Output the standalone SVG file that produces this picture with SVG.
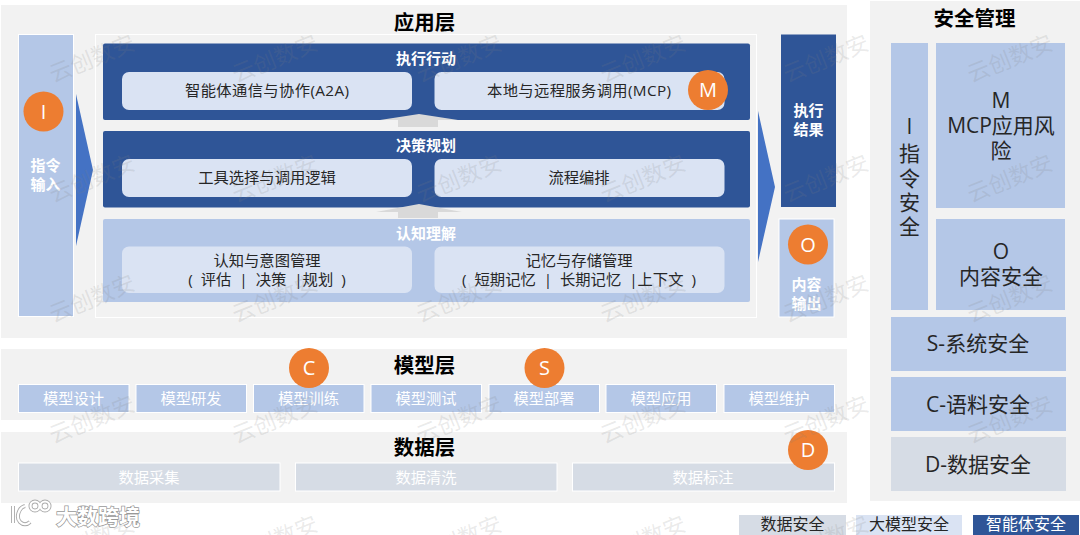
<svg xmlns="http://www.w3.org/2000/svg" width="1080" height="535" viewBox="0 0 1080 535">
<style>
text{font-family:"Open Sans","Noto Sans CJK SC",sans-serif;text-anchor:middle}
.panel{fill:#f2f2f2}
.dark{fill:#2f5597}
.light{fill:#b4c7e7}
.pale{fill:#dae3f3}
.gray{fill:#d6dce5}
.edge{stroke:#fff;stroke-width:1}
.arrow{fill:#4472c4}
.up{fill:#d9d9d9}
.badge circle{fill:#ed7d31}
.badge text{fill:#fff;font-size:20px}
.title{font-size:20.5px;font-weight:700;fill:#000}
.bar-t{font-size:15px;font-weight:700;fill:#fff}
.item{font-size:15.3px;fill:#262626}
.side{font-size:15px;font-weight:700;fill:#fff}
.sec{font-size:21px;fill:#262626}
.mod{font-size:15.3px;fill:#fff}
.leg{font-size:16px}
.wm{font-size:22.5px;fill:#7f7f7f;fill-opacity:.17}
.logo{font-size:21px;font-weight:700;fill:#fff;stroke:#999;stroke-width:1.5;paint-order:stroke}
.lg1{fill:none;stroke:#aaa;stroke-width:4}
.lg2{fill:none;stroke:#fff;stroke-width:2.200}
</style>
<g id="layer-app">
<rect class="panel" x="1" y="5" width="846" height="333"/>
<rect class="panel edge" x="95.5" y="34.5" width="661" height="283"/>
<text class="title" x="424.500" y="30">应用层</text>
</g>
<g id="node-input">
<rect class="light edge" x="18.5" y="34.5" width="55" height="282"/>
<text class="side"><tspan x="45.5" y="171">指令</tspan><tspan x="45.5" y="190">输入</tspan></text>
</g>
<g id="node-exec">
<rect class="dark" x="103" y="43.5" width="647" height="76.5" rx="2"/>
<text class="bar-t" x="426" y="64">执行行动</text>
<rect class="pale" x="122" y="72" width="290" height="38" rx="7"/>
<text class="item" x="267" y="96" textLength="164">智能体通信与协作(A2A)</text>
<rect class="pale" x="434.5" y="72" width="290" height="38" rx="7"/>
<text class="item" x="579" y="96" textLength="184">本地与远程服务调用(MCP)</text>
</g>
<g id="node-plan">
<rect class="dark" x="103" y="131" width="647" height="76.5" rx="2"/>
<text class="bar-t" x="426" y="151">决策规划</text>
<rect class="pale" x="122" y="159" width="290" height="38" rx="7"/>
<text class="item" x="267" y="183">工具选择与调用逻辑</text>
<rect class="pale" x="434.5" y="159" width="290" height="38" rx="7"/>
<text class="item" x="579" y="183">流程编排</text>
</g>
<g id="node-cognition">
<rect class="light" x="103" y="219" width="647" height="83" rx="2"/>
<text class="bar-t" x="426" y="239">认知理解</text>
<rect class="pale" x="122" y="246.5" width="290" height="46.5" rx="7"/>
<text class="item"><tspan x="267" y="266">认知与意图管理</tspan><tspan x="267" y="285">(&#160;&#160;评估&#160;&#160;|&#160;&#160;决策&#160;&#160;|规划&#160;&#160;)</tspan></text>
<rect class="pale" x="434.5" y="246.5" width="290" height="46.5" rx="7"/>
<text class="item"><tspan x="579" y="266">记忆与存储管理</tspan><tspan x="579" y="285">(&#160;&#160;短期记忆&#160;&#160;|&#160;&#160;长期记忆&#160;&#160;|上下文&#160;&#160;)</tspan></text>
</g>
<g id="node-result">
<rect class="dark" x="781" y="34.5" width="55" height="172.5"/>
<text class="side"><tspan x="808.5" y="116">执行</tspan><tspan x="808.5" y="135">结果</tspan></text>
</g>
<g id="node-output">
<rect class="light edge" x="779" y="219" width="55" height="98"/>
<text class="side"><tspan x="806.5" y="290">内容</tspan><tspan x="806.5" y="309">输出</tspan></text>
</g>
<g id="connectors">
<polygon class="arrow" points="76,94 93,170 76,246"/>
<polygon class="arrow" points="758,111 775,187 758,262"/>
<polygon class="up" points="419,114 458,120 438,120 438,127 398,127 398,120 380,120"/>
<polygon class="up" points="419,204 462,212 438,212 438,218 398,218 398,212 376,212"/>
</g>
<g id="layer-model">
<rect class="panel" x="1" y="349" width="846" height="71"/>
<text class="title" x="424.500" y="373">模型层</text>
<g id="model-items">
<rect class="light edge" x="18.5" y="384.5" width="110.500" height="28"/><text class="mod" x="73.500" y="404">模型设计</text>
<rect class="light edge" x="136" y="384.5" width="110.500" height="28"/><text class="mod" x="191" y="404">模型研发</text>
<rect class="light edge" x="253.5" y="384.5" width="110.500" height="28"/><text class="mod" x="308.500" y="404">模型训练</text>
<rect class="light edge" x="371" y="384.5" width="110.500" height="28"/><text class="mod" x="426" y="404">模型测试</text>
<rect class="light edge" x="489" y="384.5" width="110.500" height="28"/><text class="mod" x="544" y="404">模型部署</text>
<rect class="light edge" x="606" y="384.5" width="110.500" height="28"/><text class="mod" x="661" y="404">模型应用</text>
<rect class="light edge" x="724" y="384.5" width="110.500" height="28"/><text class="mod" x="779" y="404">模型维护</text>
</g>
</g>
<g id="layer-data">
<rect class="panel" x="1" y="432" width="846" height="71"/>
<text class="title" x="424.500" y="455">数据层</text>
<g id="data-items">
<rect class="gray edge" x="18.5" y="463" width="261.500" height="28"/><text class="mod" x="149" y="483">数据采集</text>
<rect class="gray edge" x="295.500" y="463" width="261.500" height="28"/><text class="mod" x="426" y="483">数据清洗</text>
<rect class="gray edge" x="572.500" y="463" width="262" height="28"/><text class="mod" x="703" y="483">数据标注</text>
</g>
</g>
<g id="layer-security">
<rect class="panel" x="870" y="1" width="210" height="500"/>
<text class="title" x="974.500" y="26">安全管理</text>
</g>
<g id="sec-i"><rect class="light" x="891" y="43" width="37" height="267"/>
<text class="sec"><tspan x="909.500" y="134">I</tspan><tspan x="909.500" y="161">指</tspan><tspan x="909.500" y="186">令</tspan><tspan x="909.500" y="210">安</tspan><tspan x="909.500" y="234">全</tspan></text></g>
<g id="sec-m"><rect class="light" x="936" y="43" width="129" height="165"/>
<text class="sec"><tspan x="1001" y="108">M</tspan><tspan x="1001" y="133">MCP应用风</tspan><tspan x="1001" y="158">险</tspan></text></g>
<g id="sec-o"><rect class="light" x="936" y="219" width="129" height="91"/>
<text class="sec"><tspan x="1001" y="259">O</tspan><tspan x="1001" y="284">内容安全</tspan></text></g>
<g id="sec-s"><rect class="light" x="891" y="317" width="175" height="54"/><text class="sec" x="978" y="351">S-系统安全</text></g>
<g id="sec-c"><rect class="light" x="891" y="377" width="175" height="54"/><text class="sec" x="978" y="412">C-语料安全</text></g>
<g id="sec-d"><rect class="gray" x="891" y="437" width="175" height="54"/><text class="sec" x="978" y="472">D-数据安全</text></g>
<g id="legend">
<rect class="gray" x="739" y="515" width="107" height="20"/><text class="leg" x="792.500" y="530" fill="#262626">数据安全</text>
<rect class="pale" x="856" y="515" width="106" height="20"/><text class="leg" x="909" y="530" fill="#262626">大模型安全</text>
<rect class="dark" x="973" y="515" width="106" height="20"/><text class="leg" x="1026" y="530" fill="#fff">智能体安全</text>
</g>
<g id="badges">
<g class="badge" id="badge-i"><circle cx="43.500" cy="111.500" r="20"/><text x="43.500" y="118.500">I</text></g>
<g class="badge" id="badge-m"><circle cx="708" cy="90" r="20"/><text x="708" y="97">M</text></g>
<g class="badge" id="badge-o"><circle cx="808" cy="244.500" r="20"/><text x="808" y="251.500">O</text></g>
<g class="badge" id="badge-c"><circle cx="309" cy="368" r="20"/><text x="309" y="375">C</text></g>
<g class="badge" id="badge-s"><circle cx="544.500" cy="368" r="20"/><text x="544.500" y="375">S</text></g>
<g class="badge" id="badge-d"><circle cx="808" cy="450" r="20"/><text x="808" y="457">D</text></g>
</g>
<g id="watermarks">
<text class="wm" transform="translate(95,66) rotate(-22)">云创数安</text>
<text class="wm" transform="translate(278,66) rotate(-22)">云创数安</text>
<text class="wm" transform="translate(462,66) rotate(-22)">云创数安</text>
<text class="wm" transform="translate(646,66) rotate(-22)">云创数安</text>
<text class="wm" transform="translate(829,66) rotate(-22)">云创数安</text>
<text class="wm" transform="translate(1013,66) rotate(-22)">云创数安</text>
<text class="wm" transform="translate(95,186) rotate(-22)">云创数安</text>
<text class="wm" transform="translate(278,186) rotate(-22)">云创数安</text>
<text class="wm" transform="translate(462,186) rotate(-22)">云创数安</text>
<text class="wm" transform="translate(646,186) rotate(-22)">云创数安</text>
<text class="wm" transform="translate(829,186) rotate(-22)">云创数安</text>
<text class="wm" transform="translate(1013,186) rotate(-22)">云创数安</text>
<text class="wm" transform="translate(95,306) rotate(-22)">云创数安</text>
<text class="wm" transform="translate(278,306) rotate(-22)">云创数安</text>
<text class="wm" transform="translate(462,306) rotate(-22)">云创数安</text>
<text class="wm" transform="translate(646,306) rotate(-22)">云创数安</text>
<text class="wm" transform="translate(829,306) rotate(-22)">云创数安</text>
<text class="wm" transform="translate(1013,306) rotate(-22)">云创数安</text>
<text class="wm" transform="translate(95,427) rotate(-22)">云创数安</text>
<text class="wm" transform="translate(278,427) rotate(-22)">云创数安</text>
<text class="wm" transform="translate(462,427) rotate(-22)">云创数安</text>
<text class="wm" transform="translate(646,427) rotate(-22)">云创数安</text>
<text class="wm" transform="translate(829,427) rotate(-22)">云创数安</text>
<text class="wm" transform="translate(1013,427) rotate(-22)">云创数安</text>
<text class="wm" transform="translate(95,547) rotate(-22)">云创数安</text>
<text class="wm" transform="translate(278,547) rotate(-22)">云创数安</text>
<text class="wm" transform="translate(462,547) rotate(-22)">云创数安</text>
<text class="wm" transform="translate(646,547) rotate(-22)">云创数安</text>
<text class="wm" transform="translate(829,547) rotate(-22)">云创数安</text>
</g>
<g id="logo">
<path class="lg1" d="M13 506v17M25 506c-7 2-9 12-5 16 3 3 7 3 10 0"/>
<circle class="lg1" cx="35" cy="506" r="4.500"/><circle class="lg1" cx="45" cy="506" r="4.500"/>
<path class="lg2" d="M13 506v17M25 506c-7 2-9 12-5 16 3 3 7 3 10 0"/>
<circle class="lg2" cx="35" cy="506" r="4.500"/><circle class="lg2" cx="45" cy="506" r="4.500"/>
<text class="logo" x="98" y="524">大数跨境</text>
</g>
</svg>
